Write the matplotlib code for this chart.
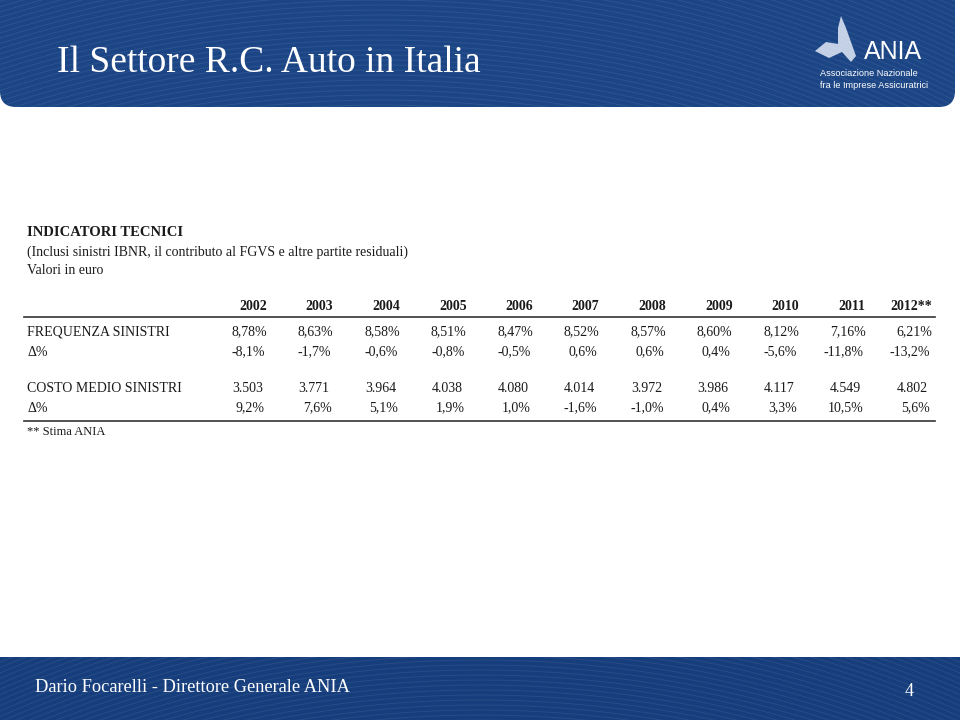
import matplotlib
matplotlib.use("Agg")
import matplotlib.pyplot as plt
import numpy as np
from matplotlib.patches import FancyBboxPatch, Polygon, Rectangle

plt.rcParams['font.family'] = ['Liberation Serif', 'DejaVu Serif']

# dati della tabella
years = ['2002', '2003', '2004', '2005', '2006', '2007', '2008', '2009', '2010', '2011', '2012**']
freq = [8.78, 8.63, 8.58, 8.51, 8.47, 8.52, 8.57, 8.60, 8.12, 7.16, 6.21]
freq_delta = [-8.1, -1.7, -0.6, -0.8, -0.5, 0.6, 0.6, 0.4, -5.6, -11.8, -13.2]
costo = [3503, 3771, 3964, 4038, 4080, 4014, 3972, 3986, 4117, 4549, 4802]
costo_delta = [9.2, 7.6, 5.1, 1.9, 1.0, -1.6, -1.0, 0.4, 3.3, 10.5, 5.6]

row_labels = ['FREQUENZA SINISTRI', 'Δ%', 'COSTO MEDIO SINISTRI', 'Δ%']


def pct(v, dec):
    return f"{v:.{dec}f}%".replace('.', ',')


def migliaia(v):
    return f"{v:,}".replace(',', '.')


fig = plt.figure(figsize=(9.6, 7.2), dpi=100)
ax = fig.add_axes([0, 0, 1, 1])
ax.set_xlim(0, 960)
ax.set_ylim(720, 0)
ax.axis('off')

blue = '#1b4585'

# banner in alto
banner = FancyBboxPatch((0, -30), 955, 137, boxstyle="round,pad=0,rounding_size=16",
                        fc=blue, ec='none')
ax.add_patch(banner)
footer = Rectangle((0, 657), 960, 63, fc='#173e7c', ec='none')
ax.add_patch(footer)

# righe chiare sullo sfondo
for r in np.arange(1050, 1400, 5):
    t = np.linspace(np.pi * 0.3, np.pi * 0.75, 400)
    ln, = ax.plot(380 + r * np.cos(t), 1250 - r * np.sin(t), color='white', lw=0.7, alpha=0.08)
    ln.set_clip_path(banner)
    ln2, = ax.plot(480 + r * np.cos(t), 1800 - r * np.sin(t), color='white', lw=0.7, alpha=0.07)
    ln2.set_clip_path(footer)

ax.text(57, 63, 'Il Settore R.C. Auto in Italia', color='white', fontsize=27,
        ha='left', va='center')

# logo ANIA
logo = Polygon([(841, 16), (846, 28), (856, 56), (851, 62), (842, 52), (829, 58),
                (815, 51), (826, 42), (838, 44), (838, 28)], closed=True,
               fc='#c3d0e6', ec='none')
ax.add_patch(logo)
ax.text(864, 52, 'ANIA', color='white', fontsize=18, family='Liberation Sans',
        ha='left', va='center')
ax.text(820, 73, 'Associazione Nazionale', color='white', fontsize=6.6,
        family='Liberation Sans', ha='left', va='center')
ax.text(820, 85, 'fra le Imprese Assicuratrici', color='white', fontsize=6.6,
        family='Liberation Sans', ha='left', va='center')

# intestazione
txt = '#1a1a1a'
ax.text(27, 233, 'INDICATORI TECNICI', fontsize=10.5, weight='bold', color=txt, va='center')
ax.text(27, 252, '(Inclusi sinistri IBNR, il contributo al FGVS e altre partite residuali)',
        fontsize=10, color=txt, va='center')
ax.text(27, 270, 'Valori in euro', fontsize=10, color=txt, va='center')

# tabella
col_x = np.linspace(267, 932, len(years))
row_y = [332, 352, 388, 408]

for x, y in zip(col_x, years):
    ax.text(x, 307, y, fontsize=10, weight='bold', color=txt, ha='right', va='center')
ax.plot([24, 935], [317, 317], color='#333333', lw=1.2)
ax.plot([24, 935], [421, 421], color='#333333', lw=1.2)

for y, lab in zip(row_y, row_labels):
    ax.text(27, y, lab, fontsize=10, color=txt, ha='left', va='center')

for i, x in enumerate(col_x):
    ax.text(x, row_y[0], pct(freq[i], 2), fontsize=10, color=txt, ha='right', va='center')
    ax.text(x - 2, row_y[1], pct(freq_delta[i], 1), fontsize=10, color=txt, ha='right', va='center')
    ax.text(x - 4, row_y[2], migliaia(costo[i]), fontsize=10, color=txt, ha='right', va='center')
    ax.text(x - 2, row_y[3], pct(costo_delta[i], 1), fontsize=10, color=txt, ha='right', va='center')

ax.text(27, 432, '** Stima ANIA', fontsize=9, color=txt, ha='left', va='center')

# piè di pagina
ax.text(35, 688, 'Dario Focarelli - Direttore Generale ANIA', color='white', fontsize=13.2,
        ha='left', va='center')
ax.text(909, 691, '4', color='white', fontsize=13, ha='center', va='center')

fig.savefig('out.png', dpi=100)
